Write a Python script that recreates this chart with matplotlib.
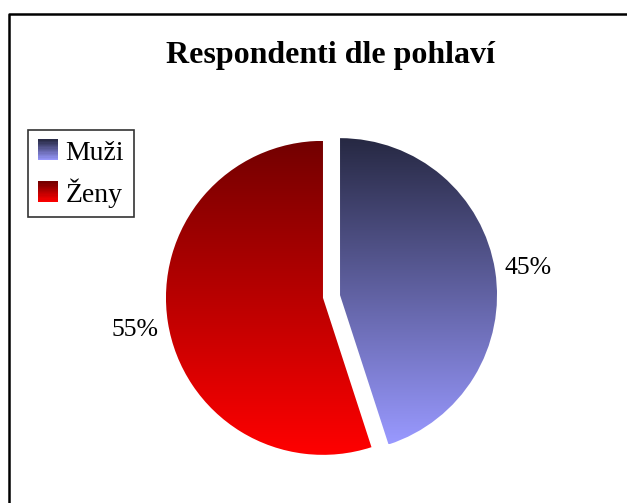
import numpy as np
import matplotlib
matplotlib.use("Agg")
import matplotlib.pyplot as plt
from matplotlib.colors import LinearSegmentedColormap
from matplotlib.patches import Rectangle
from matplotlib.lines import Line2D
from matplotlib.legend_handler import HandlerBase

categories = ["Muži", "Ženy"]
values = [45, 55]
title = "Respondenti dle pohlaví"
top_colors = ["#262842", "#730000"]
bottom_colors = ["#9999FF", "#FF0000"]

W, H = 627, 503
fig = plt.figure(figsize=(W / 100, H / 100), dpi=100)
fig.patch.set_facecolor("white")

# pie geometry (pixels)
cx, cy, R = 331.5, 296.5, 157.0
ax = fig.add_axes([0, 0, 1, 1])
ax.axis("off")

serif = ["Liberation Serif", "DejaVu Serif"]

wedges, texts, autotexts = ax.pie(
    values, labels=None, startangle=90, counterclock=False,
    explode=[0.055, 0.055], radius=1.0, center=(0, 0),
    autopct="%1.0f%%", pctdistance=1.215,
    textprops=dict(family=serif, fontsize=18.5, color="black"),
    wedgeprops=dict(linewidth=0),
    frame=False,
)
for t in autotexts:
    t.set_va("center_baseline")
ax.set_aspect("auto")

grad = np.linspace(0, 1, 256).reshape(-1, 1)
for w, tc, bc in zip(wedges, top_colors, bottom_colors):
    cmap = LinearSegmentedColormap.from_list("g", [tc, bc])
    ext = w.get_path().get_extents()
    w.set_facecolor("none")
    im = ax.imshow(grad, cmap=cmap, aspect="auto", origin="upper",
                   extent=[ext.x0, ext.x1, ext.y0, ext.y1], zorder=1,
                   interpolation="bilinear")
    im.set_clip_path(w)

ax.set_xlim(-cx / R, (W - cx) / R)
ax.set_ylim(-(H - cy) / R, cy / R)

# title
fig.text(330 / W, 1 - 56 / H, title, ha="center", va="center",
         family=serif, fontsize=23, fontweight="bold")


class GradientHandler(HandlerBase):
    def __init__(self, tc, bc):
        super().__init__()
        self.tc, self.bc = tc, bc

    def create_artists(self, legend, orig_handle, xdescent, ydescent,
                       width, height, fontsize, trans):
        cmap = LinearSegmentedColormap.from_list("g", [self.tc, self.bc])
        n = 16
        side = min(width, height)
        x0 = -xdescent + (width - side) / 2
        y0 = -ydescent + (height - side) / 2
        arts = []
        for i in range(n):
            c = cmap(1 - (i + 0.5) / n)
            r = Rectangle((x0, y0 + side * i / n), side, side / n + 0.3,
                          facecolor=c, edgecolor="none", transform=trans)
            arts.append(r)
        return arts


handles = [Rectangle((0, 0), 1, 1) for _ in categories]
hmap = {h: GradientHandler(t, b) for h, t, b in zip(handles, top_colors, bottom_colors)}
leg = fig.legend(handles, categories, handler_map=hmap,
                 loc="upper left", bbox_to_anchor=(28 / W, 1 - 130 / H),
                 prop=dict(family=serif, size=20), frameon=True, fancybox=False,
                 edgecolor="black", handlelength=0.75, handleheight=0.75,
                 handletextpad=0.25, borderpad=0.35, labelspacing=0.45,
                 borderaxespad=0)
leg.get_frame().set_linewidth(1.2)

# outer frame (cropped rectangle)
fig.add_artist(Line2D([8.5 / W, 8.5 / W, 1.05], [-0.05, 1 - 13.5 / H, 1 - 13.5 / H],
                      transform=fig.transFigure, color="black", lw=1.8))

fig.savefig("out.png", dpi=100)
